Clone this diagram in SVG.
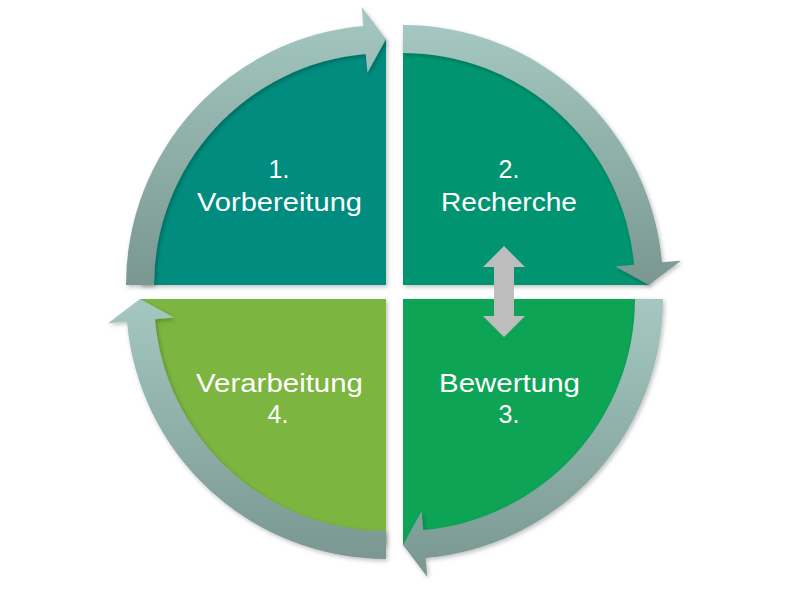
<svg xmlns="http://www.w3.org/2000/svg" width="787" height="590" viewBox="0 0 787 590">
<defs>
<linearGradient id="arrowGrad" x1="0" y1="0" x2="0" y2="1">
<stop offset="0" stop-color="#A4C8C1"/>
<stop offset="1" stop-color="#7A9791"/>
</linearGradient>
<filter id="shadow" x="-10%" y="-10%" width="120%" height="120%">
<feDropShadow dx="1.5" dy="2" stdDeviation="2" flood-color="#000" flood-opacity="0.25"/>
</filter>
<style>
.lbl{font-family:"Liberation Sans","Open Sans",Arial,sans-serif;font-size:25px;fill:#FFFFFF;text-anchor:middle}
.arrow{fill:url(#arrowGrad);filter:url(#shadow)}
.quad{filter:url(#shadow)}
</style>
</defs>
<rect width="787" height="590" fill="#FFFFFF"/>
<g id="q1">
<path class="quad" d="M386,285 L140,285 A246,246 0 0 1 386,39 Z" fill="#008C7E"/>
<text class="lbl" x="279" y="178">1.</text>
<text class="lbl" x="279.5" y="211" textLength="165" lengthAdjust="spacingAndGlyphs">Vorbereitung</text>
</g>
<g id="q2">
<path class="quad" d="M403,285 L403,39 A246,246 0 0 1 649,285 Z" fill="#00956F"/>
<text class="lbl" x="509" y="178">2.</text>
<text class="lbl" x="509" y="211" textLength="136" lengthAdjust="spacingAndGlyphs">Recherche</text>
</g>
<g id="q3">
<path class="quad" d="M403,299 L649,299 A246,246 0 0 1 403,545 Z" fill="#0DA457"/>
<text class="lbl" x="509.5" y="392" textLength="141" lengthAdjust="spacingAndGlyphs">Bewertung</text>
<text class="lbl" x="509" y="423">3.</text>
</g>
<g id="q4">
<path class="quad" d="M386,299 L386,545 A246,246 0 0 1 140,299 Z" fill="#7BB540"/>
<text class="lbl" x="279.5" y="392" textLength="167" lengthAdjust="spacingAndGlyphs">Verarbeitung</text>
<text class="lbl" x="278" y="423">4.</text>
</g>
<g id="connectors">
<path class="arrow" d="M126,285 A260,260 0 0 1 363.34,25.99 L361.68,7.06 L386,39 L367.44,72.81 L365.78,53.88 A232,232 0 0 0 154,285 Z"/>
<path class="arrow" d="M403,25 A260,260 0 0 1 662.01,262.34 L680.94,260.68 L649,285 L615.19,266.44 L634.12,264.78 A232,232 0 0 0 403,53 Z"/>
<path class="arrow" d="M663,299 A260,260 0 0 1 425.66,558.01 L427.32,576.94 L403,545 L421.56,511.19 L423.22,530.12 A232,232 0 0 0 635,299 Z"/>
<path class="arrow" d="M386,559 A260,260 0 0 1 126.99,321.66 L108.06,323.32 L140,299 L173.81,317.56 L154.88,319.22 A232,232 0 0 0 386,531 Z"/>
<path d="M504,246 L525,267 L514,267 L514,316 L525,316 L504,337 L483,316 L494,316 L494,267 L483,267 Z" fill="#BDBDBD"/>
</g>
</svg>
